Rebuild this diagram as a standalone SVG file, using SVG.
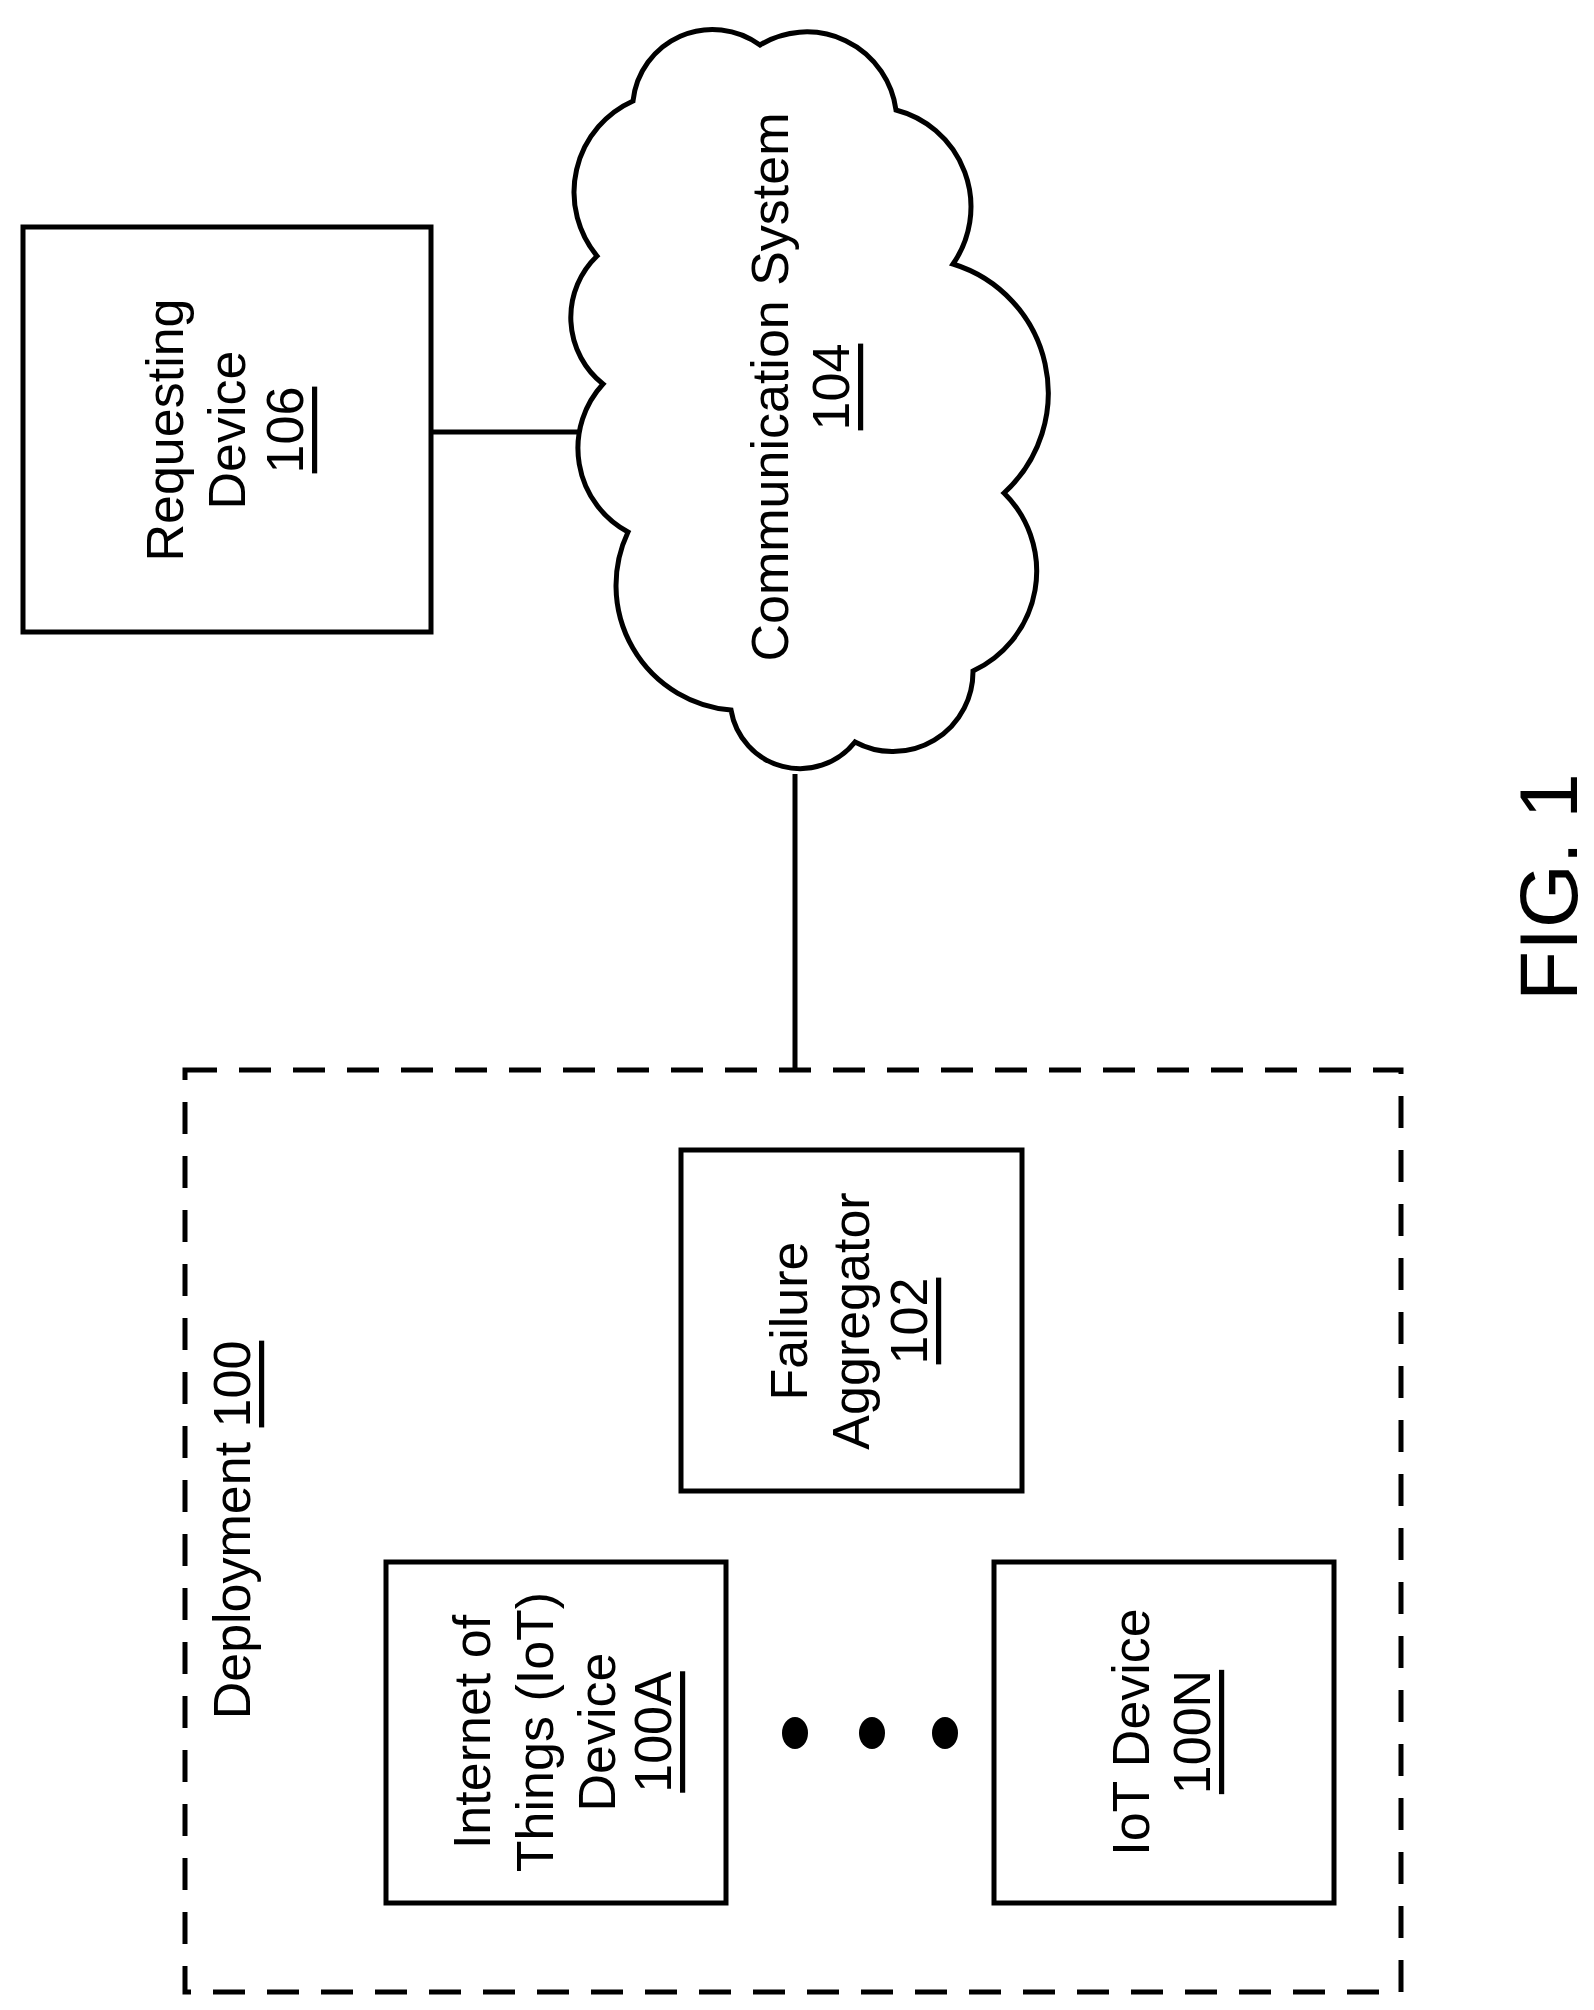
<svg xmlns="http://www.w3.org/2000/svg" width="1594" height="2010" viewBox="0 0 1594 2010">
<style>
.b{fill:#fff;stroke:#000;stroke-width:5}
.t{font-family:"Liberation Sans",Arial,sans-serif;font-size:52px;text-anchor:middle;dominant-baseline:central;fill:#000}
.u{text-decoration:underline}
.c{stroke:#000;stroke-width:5;fill:none}
</style>
<rect width="1594" height="2010" fill="#fff"/>
<g id="connectors">
<line class="c" x1="431" y1="432" x2="592" y2="432"/>
<line class="c" x1="795" y1="774" x2="795" y2="1070"/>
</g>
<g id="deployment">
<rect x="185" y="1070" width="1216" height="922" fill="none" stroke="#000" stroke-width="5" stroke-dasharray="32,22"/>
<text class="t" transform="translate(232,1530) rotate(-90)">Deployment <tspan class="u">100</tspan></text>
</g>
<g id="requesting">
<rect class="b" x="23" y="227" width="408" height="405"/>
<text class="t" transform="translate(227,430) rotate(-90)"><tspan x="0" dy="-62">Requesting</tspan><tspan x="0" dy="62">Device</tspan><tspan x="0" dy="58" class="u">106</tspan></text>
</g>
<g id="cloud">
<path class="b" d="M603,384 A85,85 0 0 1 597,256 A100,100 0 0 1 633,101 A80,80 0 0 1 760,45 A90,90 0 0 1 896,110 A100,100 0 0 1 953,264 A135,135 0 0 1 1004,493 A110,110 0 0 1 973,671 A80,80 0 0 1 855,742 A70,70 0 0 1 731,710 A125,125 0 0 1 628,532 A95,95 0 0 1 603,384 Z"/>
<text class="t" transform="translate(800,387) rotate(-90)"><tspan x="0" dy="-30">Communication System</tspan><tspan x="0" dy="61" class="u">104</tspan></text>
</g>
<g id="aggregator">
<rect class="b" x="681" y="1150" width="341" height="341"/>
<text class="t" transform="translate(851,1321) rotate(-90)"><tspan x="0" dy="-62">Failure</tspan><tspan x="0" dy="62">Aggregator</tspan><tspan x="0" dy="58" class="u">102</tspan></text>
</g>
<g id="iotA">
<rect class="b" x="386" y="1562" width="340" height="341"/>
<text class="t" transform="translate(562,1732) rotate(-90)"><tspan x="0" dy="-90">Internet of</tspan><tspan x="0" dy="63">Things (IoT)</tspan><tspan x="0" dy="62">Device</tspan><tspan x="0" dy="56" class="u">100A</tspan></text>
</g>
<g id="dots">
<ellipse cx="795" cy="1733" rx="13" ry="16"/>
<ellipse cx="872" cy="1733" rx="13" ry="16"/>
<ellipse cx="945" cy="1733" rx="13" ry="16"/>
</g>
<g id="iotN">
<rect class="b" x="994" y="1562" width="340" height="341"/>
<text class="t" transform="translate(1162,1732) rotate(-90)"><tspan x="0" dy="-31">IoT Device</tspan><tspan x="0" dy="61" class="u">100N</tspan></text>
</g>
<text class="t" style="font-size:82px" transform="translate(1548,887) rotate(-90)">FIG. 1</text>
</svg>
